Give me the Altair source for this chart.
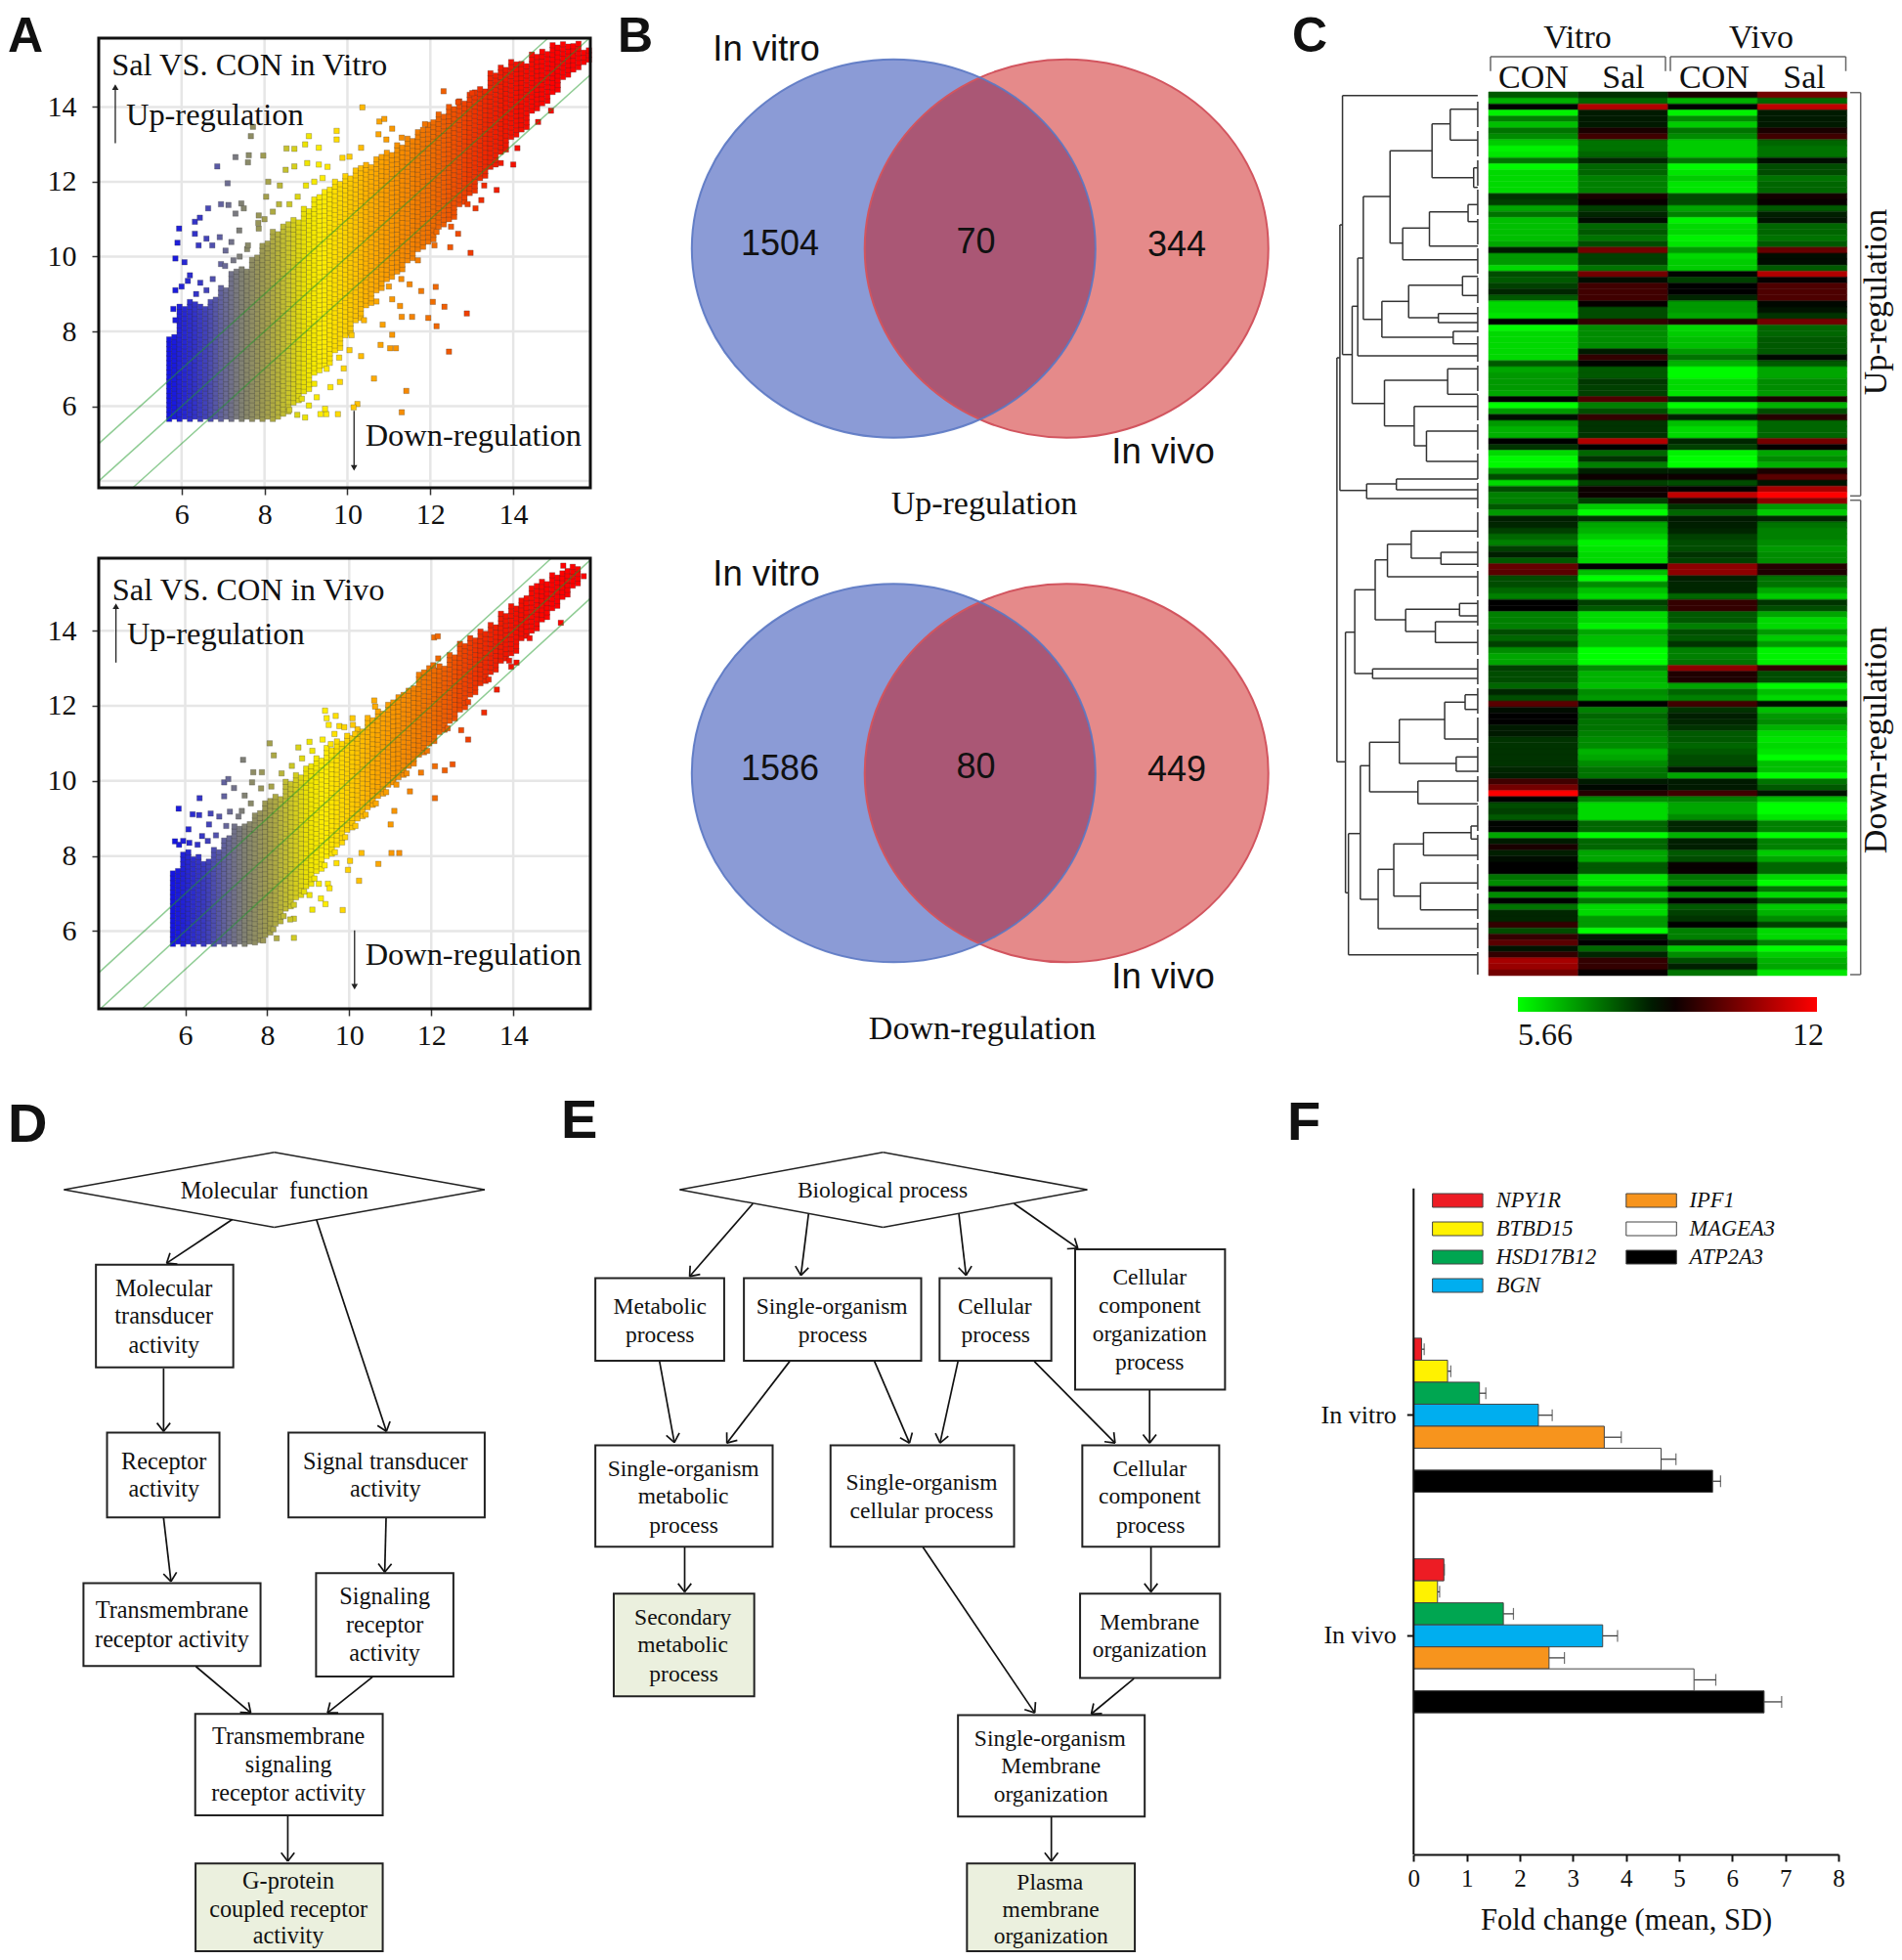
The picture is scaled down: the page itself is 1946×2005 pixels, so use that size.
import altair as alt
import pandas as pd
import math

W, H = 1930, 1989
SERIF = "Liberation Serif"
SANS = "Liberation Sans"

# ---------- A: scatter clouds, columns (x, low, high)
CLOUD_VITRO = [(5.7,5.66,7.9),(5.95,5.66,8.7),(6.2,5.66,8.8),(6.45,5.66,8.7),(6.7,5.66,8.9),(6.95,5.66,9.2),(7.2,5.66,9.6),(7.45,5.66,9.7),(7.7,5.66,10.0),(7.95,5.66,10.4),(8.2,5.66,10.7),(8.45,5.8,10.9),(8.7,6.1,11.0),(8.95,6.4,11.3),(9.2,6.9,11.6),(9.45,7.1,11.8),(9.7,7.5,12.0),(9.95,7.9,12.2),(10.2,8.3,12.4),(10.45,8.7,12.5),(10.7,9.1,12.7),(10.95,9.4,12.8),(11.2,9.6,13.0),(11.45,9.9,13.2),(11.7,10.2,13.4),(11.95,10.4,13.6),(12.2,10.8,13.8),(12.45,11.0,14.0),(12.7,11.4,14.2),(12.95,11.7,14.4),(13.2,12.1,14.5),(13.45,12.4,14.9),(13.7,12.8,15.1),(13.95,13.2,15.2),(14.2,13.4,15.2),(14.45,13.9,15.4),(14.7,14.1,15.5),(14.95,14.4,15.7),(15.2,14.8,15.7),(15.45,15.0,15.7),(15.7,15.2,15.55)]
CLOUD_VIVO = [(5.7,5.66,7.6),(5.95,5.66,8.1),(6.2,5.66,8.0),(6.45,5.66,7.9),(6.7,5.66,8.2),(6.95,5.66,8.5),(7.2,5.66,8.8),(7.45,5.66,8.9),(7.7,5.7,9.2),(7.95,5.9,9.5),(8.2,6.2,9.6),(8.45,6.6,10.0),(8.7,6.9,10.2),(8.95,7.2,10.4),(9.2,7.6,10.6),(9.45,8.0,10.9),(9.7,8.3,11.1),(9.95,8.7,11.2),(10.2,9.0,11.4),(10.45,9.3,11.7),(10.7,9.6,11.9),(10.95,9.9,12.1),(11.2,10.1,12.3),(11.45,10.4,12.5),(11.7,10.7,12.9),(11.95,11.0,13.0),(12.2,11.3,13.1),(12.45,11.6,13.4),(12.7,11.9,13.7),(12.95,12.3,13.8),(13.2,12.6,14.0),(13.45,12.9,14.2),(13.7,13.2,14.5),(13.95,13.4,14.7),(14.2,13.8,14.9),(14.45,14.0,15.2),(14.7,14.3,15.3),(14.95,14.6,15.5),(15.2,14.9,15.6),(15.45,15.2,15.75)]
OUT_VITRO = [(5.94,10.75),(5.9,10.37),(5.85,9.95),(6.07,9.85),(6.32,10.93),(6.44,11.04),(6.64,11.29),(6.32,10.61),(6.41,10.3),(6.6,10.48),(6.74,10.3),(6.92,10.52),(6.95,11.4),(7.13,11.38),(7.3,11.15),(7.11,11.96),(6.86,12.41),(7.3,12.66),(7.62,12.71),(7.6,12.52),(7.97,12.7),(7.67,13.22),(7.72,13.47),(7.44,11.42),(7.5,11.29),(7.39,10.7),(7.86,10.75),(7.2,10.39),(7.06,10.16),(7.58,10.2),(7.86,11.1),(8.09,12.0),(8.04,11.6),(8.37,11.9),(8.51,12.32),(8.53,12.89),(8.72,12.88),(8.72,12.41),(8.98,13.0),(9.07,13.22),(9.31,12.91),(9.03,12.5),(9.31,12.46),(9.52,12.4),(9.74,13.36),(9.74,13.13),(9.88,12.64),(10.05,12.67),(10.36,13.99),(10.33,12.91),(10.77,13.61),(10.89,13.68),(10.75,13.27),(11.08,13.42),(10.94,13.13),(11.31,13.18),(12.32,14.42),(13.01,14.37),(12.67,14.13),(11.87,13.54),(12.97,10.1),(14.0,12.46),(14.91,13.9),(13.6,11.78),(13.23,11.51),(13.09,11.29),(12.48,10.25),(12.67,10.61),(12.15,10.66),(12.13,9.19),(11.78,9.08),(11.5,9.26),(12.06,8.79),(12.34,8.66),(12.88,8.48),(11.95,8.36),(11.56,8.39),(11.31,8.39),(12.15,8.14),(12.45,7.46),(11.17,7.55),(11.03,7.55),(11.08,7.91),(10.85,8.18),(10.8,7.64),(11.27,8.68),(11.08,8.86),(10.64,6.74),(11.42,6.41),(11.31,5.84),(10.24,6.06),(10.15,5.97),(9.82,6.65),(9.91,7.01),(10.33,7.34),(10.05,7.5),(9.77,5.79),(9.49,5.79),(9.35,5.79),(8.98,5.7),(8.79,5.77),(9.07,6.02),(9.26,6.24),(9.59,6.51),(9.46,5.93),
(5.85,9.1),(6.0,9.2),(6.15,9.35),(6.2,9.5),(6.35,9.0),(5.8,8.6),(5.85,8.3),(6.45,9.3),(6.6,9.1),(6.75,9.4),(6.95,9.8),(7.05,9.75),(7.25,9.9),(7.4,10.0),(7.6,10.3),(7.85,10.9),(8.0,11.0),(8.2,11.2),(8.35,11.4),(8.6,11.4),(8.8,11.6),(9.0,11.9),(9.2,12.0),(9.4,12.1),(8.6,5.9),(8.9,6.2),(9.2,6.6),(9.5,7.0),(9.8,7.3),(10.1,7.9),(10.4,8.3),(10.7,8.8),(11.0,9.2),(11.3,9.4),(11.7,9.9),(12.1,10.3),(12.5,10.8),(12.9,11.4),(13.3,11.9),(13.7,12.5),(14.1,12.9),(14.6,13.6)]
OUT_VIVO = [(5.84,9.26),(6.18,9.11),(6.34,9.09),(6.35,9.54),(6.62,9.13),(6.83,9.05),(6.08,8.71),(6.58,8.84),(6.41,8.53),(5.75,8.39),(6.95,9.59),(6.95,9.96),(7.05,10.05),(7.19,9.81),(7.45,9.61),(7.09,9.18),(7.38,9.2),(7.41,10.56),(7.66,10.23),(7.87,10.23),(7.63,9.96),(8.06,11.0),(8.16,10.68),(8.76,10.89),(9.03,11.04),(9.41,11.87),(9.67,11.73),(9.45,11.67),(9.5,11.49),(9.76,11.46),(9.88,11.43),(9.64,11.25),(10.08,11.67),(10.09,11.49),(10.14,11.25),(9.55,10.98),(10.61,12.14),(10.63,11.98),(12.07,13.82),(12.16,13.85),(12.17,13.26),(12.05,13.08),(13.29,11.82),(15.16,14.21),(14.08,13.15),(13.95,13.04),(13.6,12.43),(12.09,9.54),(12.9,11.1),(12.73,11.35),(12.52,10.44),(12.33,10.28),(12.09,10.39),(11.75,10.22),(11.48,9.72),(11.1,9.2),(11.01,8.84),(11.03,8.08),(11.22,8.08),(10.71,7.79),(10.3,8.08),(10.24,7.34),(9.97,7.63),(10.02,7.87),(9.69,7.81),(9.48,7.26),(9.52,7.14),(9.26,7.26),(9.03,6.96),(9.31,6.87),(9.42,6.72),(9.84,6.56),(9.1,6.57),(8.65,6.33),(8.56,6.31),(8.23,5.81),(8.65,5.82),(15.22,15.73),(15.72,15.45),
(5.85,8.3),(5.95,8.4),(6.1,8.35),(6.3,8.3),(6.55,8.4),(6.75,8.55),(7.0,8.8),(7.3,9.05),(7.6,9.4),(7.85,9.8),(8.1,9.85),(8.35,10.2),(8.6,10.4),(8.85,10.6),(9.1,10.8),(9.35,11.1),(7.9,5.75),(8.15,6.05),(8.4,6.4),(8.65,6.7),(8.9,7.05),(9.15,7.4),(9.4,7.75),(9.65,8.1),(9.9,8.5),(10.15,8.8),(10.4,9.1),(10.65,9.4),(10.9,9.7),(11.15,9.9),(11.4,10.2),(11.9,10.8),(12.4,11.4),(12.9,12.1),(13.4,12.7),(13.9,13.2),(14.4,13.8)]
TICKS = [6, 8, 10, 12, 14]
X_STOPS = [5.66, 6.5, 7.0, 7.5, 8.0, 8.5, 9.0, 9.4, 10.0, 10.5, 11.0, 12.0, 12.5, 13.0, 13.5, 14.0, 15.0]
X_COLORS = ["#1212e6", "#3c3cc0", "#66669a", "#85856f", "#a09c50", "#c4c030", "#eee400", "#ffee00", "#ffd000", "#ffb000", "#fa9a00", "#f07000", "#f05500", "#f03800", "#f02000", "#f51000", "#ff0000"]

# ---------- B: Venn counts
VENN_UP = [1504, 70, 344]
VENN_DOWN = [1586, 80, 449]

# ---------- C: heat map rows, CON/Sal vitro, CON/Sal vivo (-1 green, 0 black, 1 red)
HEAT = [(-.35,-.2,.1,.45),(-.7,-.4,-.7,-.4),(0,.7,0,.75),(-.95,-.1,-.95,-.1),(-.5,-.1,-.55,-.1),(-.75,-.1,-.8,-.1),(-.45,.1,-.45,.1),(-.55,.25,-.55,.25),(-.8,-.45,-.8,-.4),(-.95,-.45,-.8,-.45),(-.9,-.4,-.8,-.45),(-.45,-.15,-.45,-.05),(-.98,-.4,-.98,-.3),(-.85,-.4,-.9,-.3),(-.85,-.5,-.8,-.45),(-.85,-.5,-.9,-.4),(-.85,-.5,-.9,-.4),(-.2,.1,-.3,.08),(-.25,.03,-.3,.03),(-.65,-.25,-.65,-.35),(-.45,-.15,-.5,-.12),(-.75,-.05,-.95,-.08),(-.75,-.4,-.85,-.4),(-.75,-.35,-.85,-.4),(-.75,-.45,-.95,-.45),(-.65,-.3,-.9,-.35),(-.1,.45,-.6,.4),(-.6,-.25,-.85,-.05),(-.6,-.25,-.8,-.05),(-.85,-.45,-.8,-.35),(-.3,.45,-.02,.7),(-.35,-.05,-.25,.02),(-.25,.25,0,.3),(-.15,.25,0,.3),
(-.35,.25,-.15,.3),(-.85,.02,-.6,-.03),(-.85,-.3,-.6,-.08),(-.9,-.3,-.65,-.2),(0,.2,.12,.45),(-.98,-.55,-.85,-.4),(-.85,-.55,-.8,-.4),(-.85,-.55,-.75,-.35),(-.85,-.55,-.75,-.35),(-.85,-.1,-.6,-.35),(-.85,.2,-.45,-.03),(-.35,-.02,-.7,-.35),(-.65,-.35,-.98,-.65),(-.6,-.35,-.98,-.65),(-.6,-.22,-.85,-.55),(-.6,-.25,-.85,-.55),(-.65,-.25,-.9,-.6),(0,.3,-.2,.1),(-1,-.5,-1,-.7),(-.6,-.3,-.7,-.3),(-.05,.2,-.12,.15),(-.6,-.2,-.75,-.4),(-.7,-.2,-.85,-.4),(-.7,-.2,-.85,-.4),(0,.7,-.15,.45),(-.2,0,-.25,.02),(-.85,-.4,-.95,-.65),(-.98,-.2,-1,-.55),(-.98,-.5,-1,-.7),(-.6,-.12,-.12,.1),(-.3,.05,.05,.35),(-.85,-.25,-.3,-.08),(-.3,.05,.02,.65),(-.5,.05,.75,1),(-.5,-.25,.1,.55),(-.35,-.8,-.2,-.6),(-.6,-1,-.4,-.8),(-.12,-.2,-.1,-.15),(-.15,-.65,-.12,-.45),(-.25,-.7,-.15,-.5),(-.4,-.8,-.25,-.5),(-.5,-.95,-.3,-.55),(-.25,-.9,-.3,-.6),(-.12,-.85,-.2,-.55),(-.35,-.85,-.25,-.55),(.4,0,.55,.15),(.35,-.75,.55,.12),
(-.3,-1,-.12,-.45),(-.3,-.55,-.15,-.45),(-.4,-.75,-.15,-.65),(-.5,-.85,-.4,-.8),(0,-.25,.2,-.2),(0,-.35,.2,-.3),(-.5,-.85,-.35,-.65),(-.5,-.85,-.35,-.85),(-.5,-.95,-.5,-.85),(-.3,-.65,-.3,-.6),(-.4,-.75,-.35,-.8),(-.25,-.75,-.2,-.6),(-.55,-1,-.5,-.95),(-.65,-1,-.5,-.95),(-.65,-1,-.45,-.95),(-.25,-.55,.55,.2),(-.3,-.7,.12,-.3),(-.3,-.7,.12,-.3),(-.4,-.75,-.65,-.98),(-.15,-.55,-.4,-.75),(-.3,-.6,-.5,-.85),(.35,0,.25,-.05),(-.05,-.5,-.2,-.75),(0,-.4,-.12,-.6),(0,-.45,-.15,-.55),(-.1,-.45,-.2,-.7),(-.1,-.5,-.35,-.85),(-.2,-.55,-.35,-.9),(-.2,-.55,-.4,-.85),(-.2,-.7,-.35,-.9),(-.2,-.65,-.3,-1),(-.2,-.55,-.3,-.75),(-.15,-.45,-.08,-.75),(-.12,-.45,-.65,-1),(.25,-.1,-.1,-.45),(.45,-.03,-.1,-.35),(1,.15,.25,-.08),(0,-.55,-.5,-.75),(-.3,-.85,-.65,-1),(-.25,-.85,-.65,-1),(-.35,-.85,-.55,-.9),(-.02,-.4,-.15,-.5),(-.02,-.4,-.15,-.5),(-.65,-.98,-.7,-1),(-.1,-.4,-.12,-.5),(.1,-.4,-.12,-.5),
(-.12,-.65,-.35,-.8),(-.05,-.65,-.3,-.65),(0,-.35,.03,-.4),(0,-.35,.03,-.4),(-.45,-.9,-.45,-.85),(-.55,-.9,-.55,-1),(0,-.45,0,-.45),(-.55,-.85,-.55,-.85),(0,-.45,0,-.3),(-.45,-.85,-.35,-.8),(-.15,-.85,-.25,-.7),(-.15,-.6,-.2,-.55),(.2,-.6,0,-.25),(-.3,-1,-.5,-.85),(.2,-.1,-.5,-.85),(.35,0,-.2,-.5),(-.08,-.4,-.8,-1),(.2,-.15,-.55,-.8),(.65,.2,-.3,-.7),(.6,.2,-.12,-.65),(.45,.02,-.45,-.9)]
HEAT_COLS = ["Vitro CON", "Vitro Sal", "Vivo CON", "Vivo Sal"]
# dendrogram elbows: x of the join, top y, x reached at the top, bottom y, x reached at the bottom
LEAF = 426
DENDRO = [(47,366,55,779.3,70),(55,230,62,501.7,127),(62,97.7,LEAF,362.7,88),(88,313.3,103,412.7,175),(103,264,118,364,LEAF),(118,201,190,326.7,168),(190,154.3,303,248.7,224),(303,126.7,352,181.7,415),(352,111.7,LEAF,143.3,LEAF),(415,171.7,LEAF,191.7,LEAF),(224,233.3,296,265.7,LEAF),(296,216.7,400,251.7,LEAF),(400,209.3,LEAF,226.7,LEAF),(168,308.3,240,345,360),(240,291.7,385,325,320),(385,282.7,LEAF,302.3,LEAF),(320,320.7,LEAF,330,LEAF),(360,339,LEAF,351.7,LEAF),(175,389,345,435.7,255),(345,377.3,LEAF,403.3,LEAF),(255,415.7,LEAF,456,288),(288,441,LEAF,472,LEAF),(127,495,207,510,LEAF),(207,490,LEAF,501,LEAF),(70,646.7,95,913.3,78),(95,603.3,150,689,143),(150,572.7,183,634,232),(183,556.7,247,590,LEAF),(247,543.3,LEAF,571,327),(327,565,LEAF,577.3,LEAF),(232,623.3,377,646,312),(377,617.3,LEAF,630,LEAF),(312,636,LEAF,657.3,LEAF),(143,684.3,LEAF,694,LEAF),(78,852.7,110,976.7,LEAF),(110,783.3,135,920,158),(135,759.3,215,810,265),(215,736,337,781,368),(337,718.3,392,756,LEAF),(392,710.7,LEAF,725.7,LEAF),(368,774.3,LEAF,789,LEAF),(265,799,LEAF,822.3,LEAF),(158,889.3,200,950,LEAF),(200,863.3,280,916.7,272),(280,851.7,408,875,LEAF),(408,845,LEAF,858.3,LEAF),(272,903.3,LEAF,930.7,LEAF)]

# ---------- F: bars
GENES = ["NPY1R", "BTBD15", "HSD17B12", "BGN", "IPF1", "MAGEA3", "ATP2A3"]
GENE_COLORS = ["#ed1c24", "#fff200", "#00a651", "#00aeef", "#f7941d", "#ffffff", "#000000"]
VITRO_MEAN = [0.15, 0.64, 1.24, 2.35, 3.59, 4.66, 5.63]
VITRO_END = [0.20, 0.70, 1.36, 2.61, 3.91, 4.94, 5.78]
VIVO_MEAN = [0.57, 0.45, 1.69, 3.56, 2.55, 5.28, 6.60]
VIVO_END = [0.58, 0.49, 1.88, 3.84, 2.84, 5.69, 6.93]
GROUPS = ["In vitro", "In vivo"]

# ---------- D / E flow charts
D_BOXES = [(285,308,693,494,0),(318,612,652,766,0),(857,612,1440,766,0),(248,885,774,1035,0),(939,867,1347,1054,0),(580,1122,1137,1306,0),(581,1393,1137,1552,1)]
D_TEXT = [("Molecular\u00a0\u00a0function",815,176),("Molecular",487,352),("transducer",487,403),("activity",487,455),("Receptor",487,666),("activity",487,716),("Signal transducer",1145,666),("activity",1145,716),("Transmembrane",511,936),("receptor activity",511,988),("Signaling",1143,911),("receptor",1143,962),("activity",1143,1014),("Transmembrane",857,1164),("signaling",857,1216),("receptor activity",857,1267),("G-protein",857,1427),("coupled receptor",857,1478),("activity",857,1526)]
D_ARROWS = [(690,226,495,305),(940,226,1148,610),(486,496,486,610),(486,767,508,882),(1147,767,1143,865),(582,1036,745,1120),(1107,1055,973,1120),(855,1307,855,1389)]
D_DIAMOND = [(190,172),(815,104),(1440,172),(815,240)]
E_BOXES = [(107,332,394,482,0),(438,332,833,482,0),(874,332,1123,482,0),(1176,280,1510,534,0),(107,635,502,819,0),(631,635,1040,819,0),(1192,635,1497,819,0),(148,904,461,1090,1),(1187,904,1499,1057,0),(915,1124,1331,1308,0),(935,1393,1309,1552,1)]
E_TEXT = [("Biological process",747,174),("Metabolic",251,384),("process",251,435),("Single-organism",634,384),("process",636,435),("Cellular",997,384),("process",999,435),("Cellular",1342,332),("component",1342,383),("organization",1342,434),("process",1342,485),("Single-organism",303,679),("metabolic",303,729),("process",304,781),("Single-organism",834,704),("cellular process",834,755),("Cellular",1342,679),("component",1342,729),("process",1344,781),("Secondary",302,948),("metabolic",302,998),("process",304,1051),("Membrane",1342,957),("organization",1342,1007),("Single-organism",1120,1167),("Membrane",1122,1217),("organization",1122,1269),("Plasma",1120,1428),("membrane",1122,1478),("organization",1122,1526)]
E_ARROWS = [(458,197,317,329),(582,216,565,327),(917,216,933,327),(1040,197,1182,278),(250,483,283,630),(540,483,400,631),(729,483,807,631),(915,483,875,631),(1085,483,1265,631),(1342,535,1342,631),(306,820,306,901),(837,820,1086,1120),(1345,820,1345,901),(1307,1058,1212,1122),(1123,1309,1123,1389)]
E_DIAMOND = [(295,172),(748,104),(1203,172),(748,240)]


def qx(dom, rng):
    def f(field, axis=None):
        return alt.X(field, type="quantitative", axis=axis,
                     scale=alt.Scale(domain=dom, range=rng, nice=False, zero=False))
    return f


def qy(dom, rng):
    def f(field, axis=None):
        return alt.Y(field, type="quantitative", axis=axis,
                     scale=alt.Scale(domain=dom, range=rng, nice=False, zero=False))
    return f


page_x = qx([0, 1946], [-8, 1938])
page_y = qy([0, 2005], [-8, 1997])
layers = []


def segs(rows, xf, yf, **mark):
    df = pd.DataFrame(rows, columns=["x1", "y1", "x2", "y2"])
    return alt.Chart(df).mark_rule(**mark).encode(
        x=xf("x1"), y=yf("y1"), x2=alt.X2("x2"), y2=alt.Y2("y2"))


def texts(rows, xf, yf, size, font=SERIF, align="center", baseline="middle", **mark):
    df = pd.DataFrame(rows, columns=["t", "x", "y"])
    return alt.Chart(df).mark_text(font=font, fontSize=size, align=align, baseline=baseline,
                                   color="#111", **mark).encode(
        x=xf("x"), y=yf("y"), text=alt.Text("t:N"))


def boxes(rows, xf, yf, **mark):
    df = pd.DataFrame(rows, columns=["x1", "y1", "x2", "y2"])
    return alt.Chart(df).mark_rect(**mark).encode(
        x=xf("x1"), y=yf("y1"), x2=alt.X2("x2"), y2=alt.Y2("y2"))


# ---------- panel A
def scatter_panel(cloud, outliers, xdom, ydom, left, right, top, bottom, grid_y, title, up_xy, up_arrow, down_xy, down_arrow, lines):
    xf = qx(xdom, [left - 8, right - 8])
    yf = qy(ydom, [bottom - 8, top - 8])
    xaxis = alt.Axis(values=TICKS, orient="bottom", offset=-(H - (bottom - 8)), title=None, domain=False,
                     grid=False, tickSize=7, tickColor="#333", tickWidth=1.5, labelFont=SERIF, labelFontSize=30,
                     labelColor="#111", labelPadding=5, labelFlush=False, labelBaseline="top")
    yaxis = alt.Axis(values=TICKS, orient="left", offset=-(left - 8), title=None, domain=False,
                     grid=False, tickSize=7, tickColor="#333", tickWidth=1.5, labelFont=SERIF, labelFontSize=30,
                     labelColor="#111", labelPadding=16, labelFlush=False)
    gv = pd.DataFrame({"x1": TICKS, "y1": [ydom[0]] * 5, "y2": [ydom[1]] * 5})
    gh = pd.DataFrame({"y1": grid_y, "x1": [xdom[0]] * len(grid_y), "x2": [xdom[1]] * len(grid_y)})
    gs = dict(color="#e6e6e6", strokeWidth=2.5)
    layers.append(alt.Chart(gv).mark_rule(**gs).encode(x=xf("x1", axis=xaxis), y=yf("y1"), y2=alt.Y2("y2")))
    layers.append(alt.Chart(gh).mark_rule(**gs).encode(y=yf("y1", axis=yaxis), x=xf("x1"), x2=alt.X2("x2")))
    rows = []
    for cx, lo, hi in cloud:
        for k, px in enumerate((cx, cx + 0.125)):
            n = int((hi - lo) / 0.125) + 1
            for i in range(n):
                py = lo + (i + (0.5 if k else 0)) * 0.125
                if py <= hi:
                    rows.append((px, py))
    rows += list(outliers)
    df = pd.DataFrame(rows, columns=["x", "y"])
    layers.append(alt.Chart(df).mark_square(size=30, opacity=1, stroke="#333", strokeWidth=0.6, strokeOpacity=0.45).encode(
        x=xf("x"), y=yf("y"),
        color=alt.Color("x:Q", legend=None, scale=alt.Scale(domain=X_STOPS, range=X_COLORS, interpolate="rgb"))))
    layers.append(segs(lines, xf, yf, color="#1f9a2a", strokeWidth=1.5, opacity=0.5))
    layers.append(texts([title], xf, yf, 32.4, align="left", baseline="alphabetic"))
    layers.append(texts([("Up-regulation", up_xy[0], up_xy[1])], xf, yf, 32.4, align="left", baseline="alphabetic"))
    layers.append(texts([("Down-regulation", down_xy[0], down_xy[1])], xf, yf, 32.4, align="left", baseline="alphabetic"))
    layers.append(segs([up_arrow, down_arrow], xf, yf, color="#222", strokeWidth=1.3))
    for shape, p in (("triangle-up", (up_arrow[2], up_arrow[3])), ("triangle-down", (down_arrow[2], down_arrow[3]))):
        layers.append(alt.Chart(pd.DataFrame({"x": [p[0]], "y": [p[1]]})).mark_point(
            shape=shape, filled=True, size=45, color="#222", opacity=1).encode(x=xf("x"), y=yf("y")))
    layers.append(boxes([(xdom[0], ydom[0], xdom[1], ydom[1])], xf, yf, fillOpacity=0, stroke="#111", strokeWidth=3))


scatter_panel(CLOUD_VITRO, OUT_VITRO, [4.0, 15.86], [3.82, 15.84], 101, 604, 39, 499, [4, 6, 8, 10, 12, 14],
              ("Sal VS. CON in Vitro", 4.31, 14.85), (4.66, 13.52), (4.40, 13.03, 4.40, 14.53), (10.43, 4.94),
              (10.16, 5.88, 10.16, 4.35),
              [(4.0, 4.0, 15.84, 15.84), (4.0, 5.0, 14.84, 15.84), (4.82, 3.82, 15.86, 14.86)])
scatter_panel(CLOUD_VIVO, OUT_VIVO, [3.89, 15.88], [3.93, 15.93], 101, 604, 571, 1032, [6, 8, 10, 12, 14],
              ("Sal VS. CON in Vivo", 4.22, 14.82), (4.58, 13.64), (4.31, 13.15, 4.31, 14.65), (10.39, 5.09),
              (10.13, 6.02, 10.13, 4.52),
              [(3.93, 3.93, 15.88, 15.88), (3.89, 4.89, 14.93, 15.93), (4.95, 3.93, 15.88, 14.86)])

# ---------- panel B
ELLIPSE = "M -1 0 A 1 0.937 0 1 1 1 0 A 1 0.937 0 1 1 -1 0 Z"
ESIZE = 413 ** 2
for cy, counts, name in ((254.2, VENN_UP, "Up-regulation"), (790.8, VENN_DOWN, "Down-regulation")):
    blue = pd.DataFrame({"x": [914.3], "y": [cy]})
    red = pd.DataFrame({"x": [1091.2], "y": [cy]})
    layers.append(alt.Chart(blue).mark_point(shape=ELLIPSE, size=ESIZE, filled=True, fill="#8b9bd6", fillOpacity=1, strokeOpacity=0).encode(
        x=page_x("x"), y=page_y("y")))
    layers.append(alt.Chart(red).mark_point(shape=ELLIPSE, size=ESIZE, filled=True, fill="#ca1010", fillOpacity=0.49, stroke="#d2555f", strokeWidth=2, strokeOpacity=1).encode(
        x=page_x("x"), y=page_y("y")))
    layers.append(alt.Chart(blue).mark_point(shape=ELLIPSE, size=ESIZE, filled=False, stroke="#5b78c4", strokeWidth=2, opacity=0.9).encode(
        x=page_x("x"), y=page_y("y")))
    off = cy - 254.2
    layers.append(texts([(str(counts[0]), 798, 250 + off), (str(counts[1]), 998.5, 248 + off), (str(counts[2]), 1204, 251 + off)],
                        page_x, page_y, 36, font=SANS))
    layers.append(texts([("In vitro", 784, 51 + off), ("In vivo", 1190, 463 + off)], page_x, page_y, 36.5, font=SANS))
    layers.append(texts([(name, 1007 if name.startswith("Up") else 1005, 516 + off)], page_x, page_y, 34))

# ---------- panel C
hx = alt.X("col:N", axis=None, scale=alt.Scale(domain=HEAT_COLS, range=[1515, 1881.7], paddingInner=0, paddingOuter=0))
hy = alt.Y("row:O", axis=None, scale=alt.Scale(domain=list(range(len(HEAT))), range=[86, 990], paddingInner=0, paddingOuter=0))
hrows = [(i, c, 8.83 + 3.17 * v) for i, r in enumerate(HEAT) for c, v in zip(HEAT_COLS, r)]
hdf = pd.DataFrame(hrows, columns=["row", "col", "val"])
HEAT_SCALE = alt.Scale(domain=[5.66, 8.83, 12], range=["#00ff00", "#000000", "#ff0000"], interpolate="rgb")
layers.append(alt.Chart(hdf).mark_rect().encode(
    x=hx, y=hy,
    color=alt.Color("val:Q", scale=HEAT_SCALE,
                    legend=alt.Legend(orient="none", legendX=1545, legendY=1012, direction="horizontal", title=None,
                                      gradientLength=306, gradientThickness=15, gradientStrokeWidth=0, values=[5.66, 12],
                                      labelExpr="''"))))
layers.append(alt.Chart(hdf).mark_rect(fillOpacity=0, strokeWidth=0.5).encode(
    x=hx, y=hy, stroke=alt.Stroke("val:Q", scale=HEAT_SCALE, legend=None)))
layers.append(texts([("5.66", 1553, 1059)], page_x, page_y, 32, align="left"))
layers.append(texts([("12", 1866, 1059)], page_x, page_y, 32, align="right"))
dx = qx([0, 1568], [1342, 1938])
dseg = []
for x, yt, xt, yb, xb in DENDRO:
    dseg += [(x, yt, x, yb), (x, yt, xt, yt), (x, yb, xb, yb)]
layers.append(segs(dseg, dx, page_y, color="#333", strokeWidth=1.5))
layers.append(segs([(426, 104, 426, 997)], dx, page_y, color="#333", strokeWidth=1.5, strokeDash=[26, 4]))
layers.append(segs([(1525, 72.7, 1525, 58), (1525, 58, 1704, 58), (1704, 58, 1704, 72.7),
                    (1709, 72.7, 1709, 58), (1709, 58, 1888.5, 58), (1888.5, 58, 1888.5, 72.7),
                    (1893, 94.7, 1903.7, 94.7), (1903.7, 94.7, 1903.7, 507.3), (1903.7, 507.3, 1893, 507.3),
                    (1893, 511.7, 1903.7, 511.7), (1903.7, 511.7, 1903.7, 997), (1903.7, 997, 1893, 997)],
                   page_x, page_y, color="#666", strokeWidth=1.5))
layers.append(texts([("Vitro", 1614, 49), ("Vivo", 1802, 49), ("CON", 1569, 90), ("Sal", 1661, 90), ("CON", 1754, 90), ("Sal", 1846, 90)],
                    page_x, page_y, 34, baseline="alphabetic"))
layers.append(texts([("Up-regulation", 1920, 309), ("Down-regulation", 1920, 757)], page_x, page_y, 34, angle=270))

# ---------- panels D, E
def flow(x0, w, box_rows, text_rows, arrow_rows, diamond, size):
    xf = qx([0, 1568], [x0 - 8, x0 - 8 + w])
    yf = qy([0, 1568], [1112, 1997])
    ux, uy = w / 1568, 885 / 1568
    green = [b[:4] for b in box_rows if b[4]]
    plain = [b[:4] for b in box_rows if not b[4]]
    layers.append(boxes(plain, xf, yf, fill="white", stroke="#222", strokeWidth=2))
    layers.append(boxes(green, xf, yf, fill="#ebf0de", stroke="#222", strokeWidth=2))
    layers.append(segs([(*diamond[i], *diamond[(i + 1) % 4]) for i in range(4)], xf, yf, color="#222", strokeWidth=1.5))
    a = []
    for x1, y1, x2, y2 in arrow_rows:
        a.append((x1, y1, x2, y2))
        dxp, dyp = (x2 - x1) * ux, (y2 - y1) * uy
        n = math.hypot(dxp, dyp)
        dxp, dyp = dxp / n, dyp / n
        for s in (-1, 1):
            ang = s * math.radians(38)
            hx_ = dxp * math.cos(ang) - dyp * math.sin(ang)
            hy_ = dxp * math.sin(ang) + dyp * math.cos(ang)
            a.append((x2, y2, x2 - 11 * hx_ / ux, y2 - 11 * hy_ / uy))
    layers.append(segs(a, xf, yf, color="#111", strokeWidth=1.7))
    layers.append(texts(text_rows, xf, yf, size))


flow(0, 540, D_BOXES, D_TEXT, D_ARROWS, D_DIAMOND, 24.2)
flow(560, 720, E_BOXES, E_TEXT, E_ARROWS, E_DIAMOND, 23.5)

# ---------- panel F
fx = qx([0, 8], [1438.3, 1873])
fy = alt.Y("group:N", title=None, scale=alt.Scale(domain=GROUPS, range=[1326.85, 1778.25], paddingInner=0, paddingOuter=0),
           axis=alt.Axis(orient="left", offset=-1438.3, domain=False, title=None, grid=False, tickSize=7, tickColor="#111", tickWidth=2,
                         labelFont=SERIF, labelFontSize=26, labelColor="#111", labelPadding=11))
fy_plain = alt.Y("group:N", axis=None, scale=alt.Scale(domain=GROUPS, range=[1326.85, 1778.25], paddingInner=0, paddingOuter=0))
foff = alt.YOffset("gene:N", scale=alt.Scale(domain=GENES, paddingInner=0, paddingOuter=0, range=[34.05, 191.65]))
frows = [(g, name, m, e) for g, ms, es in (("In vitro", VITRO_MEAN, VITRO_END), ("In vivo", VIVO_MEAN, VIVO_END))
         for name, m, e in zip(GENES, ms, es)]
fdf = pd.DataFrame(frows, columns=["group", "gene", "mean", "end"])
faxis = alt.Axis(values=list(range(9)), orient="bottom", offset=-(H - 1889), title="Fold change (mean, SD)", grid=False,
                 domainColor="#111", domainWidth=2, tickColor="#111", tickWidth=2, tickSize=7,
                 labelFont=SERIF, labelFontSize=25, labelColor="#111", labelPadding=5, labelFlush=False,
                 titleFont=SERIF, titleFontSize=30.5, titleFontWeight="normal", titleColor="#111", titlePadding=15)
layers.append(alt.Chart(fdf).mark_rule(color="#333", strokeWidth=1.2).encode(
    x=fx("mean"), x2=alt.X2("end"), y=fy_plain, yOffset=foff))
layers.append(alt.Chart(fdf).mark_tick(color="#333", thickness=1.2, size=12, orient="vertical").encode(
    x=fx("end"), y=fy_plain, yOffset=foff))
layers.append(alt.Chart(fdf).mark_bar(stroke="#444", strokeWidth=1).encode(
    x=fx("mean", axis=faxis), y=fy, yOffset=foff,
    color=alt.Color("gene:N", legend=None, scale=alt.Scale(domain=GENES, range=GENE_COLORS))))
layers.append(segs([(1446.3, 1215.8, 1446.3, 1897)], page_x, page_y, color="#111", strokeWidth=2))
lrows = []
for i, g in enumerate(GENES):
    col = 0 if i < 4 else 1
    r = i if i < 4 else i - 4
    xa = 1465.6 if col == 0 else 1663.8
    ya = 1221 + 29 * r
    lrows.append((g, xa, ya, xa + 51.5, ya + 14))
ldf = pd.DataFrame(lrows, columns=["gene", "x1", "y1", "x2", "y2"])
layers.append(alt.Chart(ldf).mark_rect(stroke="#444", strokeWidth=1).encode(
    x=page_x("x1"), x2=alt.X2("x2"), y=page_y("y1"), y2=alt.Y2("y2"),
    color=alt.Color("gene:N", legend=None, scale=alt.Scale(domain=GENES, range=GENE_COLORS))))
layers.append(texts([(g, (1530.7 if i < 4 else 1728.5), 1228.4 + 29 * (i if i < 4 else i - 4)) for i, g in enumerate(GENES)],
                    page_x, page_y, 22.5, align="left", fontStyle="italic"))

# ---------- panel letters
layers.append(texts([("A", 8, 53), ("B", 632, 53), ("C", 1322, 53)], page_x, page_y, 50, font=SANS, align="left", baseline="alphabetic", fontWeight="bold"))
layers.append(texts([("D", 8, 1168), ("E", 574, 1164), ("F", 1317, 1166)],
                    page_x, page_y, 56, font=SANS, align="left", baseline="alphabetic", fontWeight="bold"))

chart = alt.layer(*layers).resolve_scale(x="independent", y="independent", color="independent", stroke="independent").properties(
    width=W, height=H, padding=0, autosize=alt.AutoSizeParams(type="none")).configure_view(stroke=None)
chart.save("out.html", embed_options={"renderer": "svg", "actions": False})
